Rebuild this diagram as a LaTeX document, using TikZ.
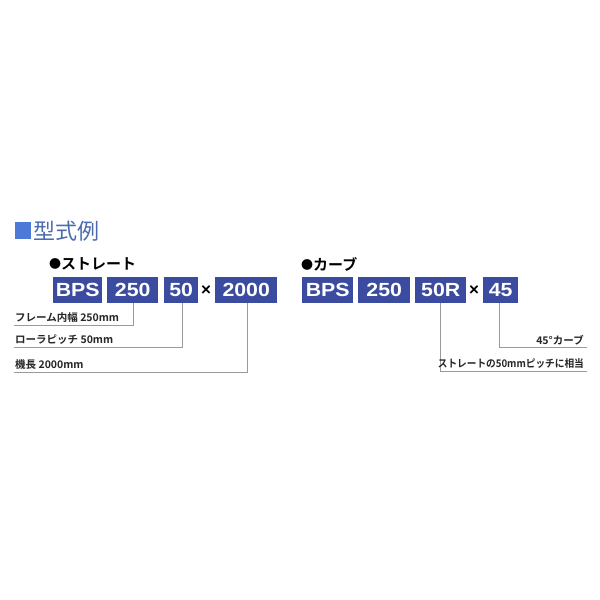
\documentclass[tikz,border=0pt]{standalone}
\usepackage{fontspec}
\setmainfont{Liberation Sans}
\newfontfamily\jp{Noto Sans CJK JP}
\newfontfamily\jpb{Noto Sans CJK JP Bold}
\newfontfamily\widebold[FakeStretch=1.12]{Liberation Sans Bold}
\definecolor{boxblue}{HTML}{3B4CA0}
\definecolor{titleblue}{HTML}{4A6AAE}
\definecolor{squareblue}{HTML}{4D7AD9}
\definecolor{lead}{HTML}{9A9A9A}
\begin{document}
\begin{tikzpicture}[x=1pt,y=-1pt,
  code/.style={fill=boxblue,text=white,font=\widebold\fontsize{19}{19}\selectfont,inner sep=0pt,minimum height=26pt,anchor=north west},
  lbl/.style={font=\jpb\fontsize{10.5}{10.5}\selectfont,inner sep=0pt,text=black!85},
  head/.style={anchor=west,inner sep=0pt,font=\jpb\fontsize{15}{15}\selectfont},
  leader/.style={draw=lead,line width=0.9pt},
  times/.style={font=\fontsize{17}{17}\selectfont\bfseries,inner sep=0pt}]
\useasboundingbox[fill=white] (0,0) rectangle (600,600);
% title
\fill[squareblue] (15,222) rectangle (31,239);
\node[anchor=west,inner sep=0pt,text=titleblue,font=\jp\fontsize{22}{22}\selectfont] (title) at (33,231) {型式例};
% straight
\node[head] (st) at (49,264) {\raisebox{1pt}{\fontsize{12}{12}\selectfont ●}ストレート};
\node[code,minimum width=49pt] (s1) at (53,277) {BPS};
\node[code,minimum width=51pt] (s2) at (107,277) {250};
\node[code,minimum width=34pt] (s3) at (164,277) {50};
\node[times] (sx) at (206,291) {×};
\node[code,minimum width=62pt] (s4) at (215,277) {2000};
\coordinate (a1) at (14,325);
\coordinate (a2) at (14,347);
\coordinate (a3) at (14,372);
\draw[leader] (s2.south -| 133,0) |- (a1);
\draw[leader] (s3.south -| 182,0) |- (a2);
\draw[leader] (s4.south -| 247,0) |- (a3);
\node[lbl,anchor=south west] (l1) at (15,323) {フレーム内幅 250mm};
\node[lbl,anchor=south west] (l2) at (15,345) {ローラピッチ 50mm};
\node[lbl,anchor=south west] (l3) at (15,370) {機長 2000mm};
% curve
\node[head] (cv) at (301,264) {\raisebox{1pt}{\fontsize{12}{12}\selectfont ●}カーブ};
\node[code,minimum width=51pt] (c1) at (302,277) {BPS};
\node[code,minimum width=52pt] (c2) at (358,277) {250};
\node[code,minimum width=51pt] (c3) at (415,277) {50R};
\node[times] (cx) at (474,291) {×};
\node[code,minimum width=35pt] (c4) at (483,277) {45};
\coordinate (b1) at (587,347);
\coordinate (b2) at (587,371);
\draw[leader] (c4.south -| 499,0) |- (b1);
\draw[leader] (c3.south -| 440,0) |- (b2);
\node[lbl,anchor=south east] (m1) at (584,345) {45°カーブ};
\node[lbl,anchor=south east,xscale=0.92] (m2) at (584,369) {ストレートの50mmピッチに相当};
\end{tikzpicture}
\end{document}
